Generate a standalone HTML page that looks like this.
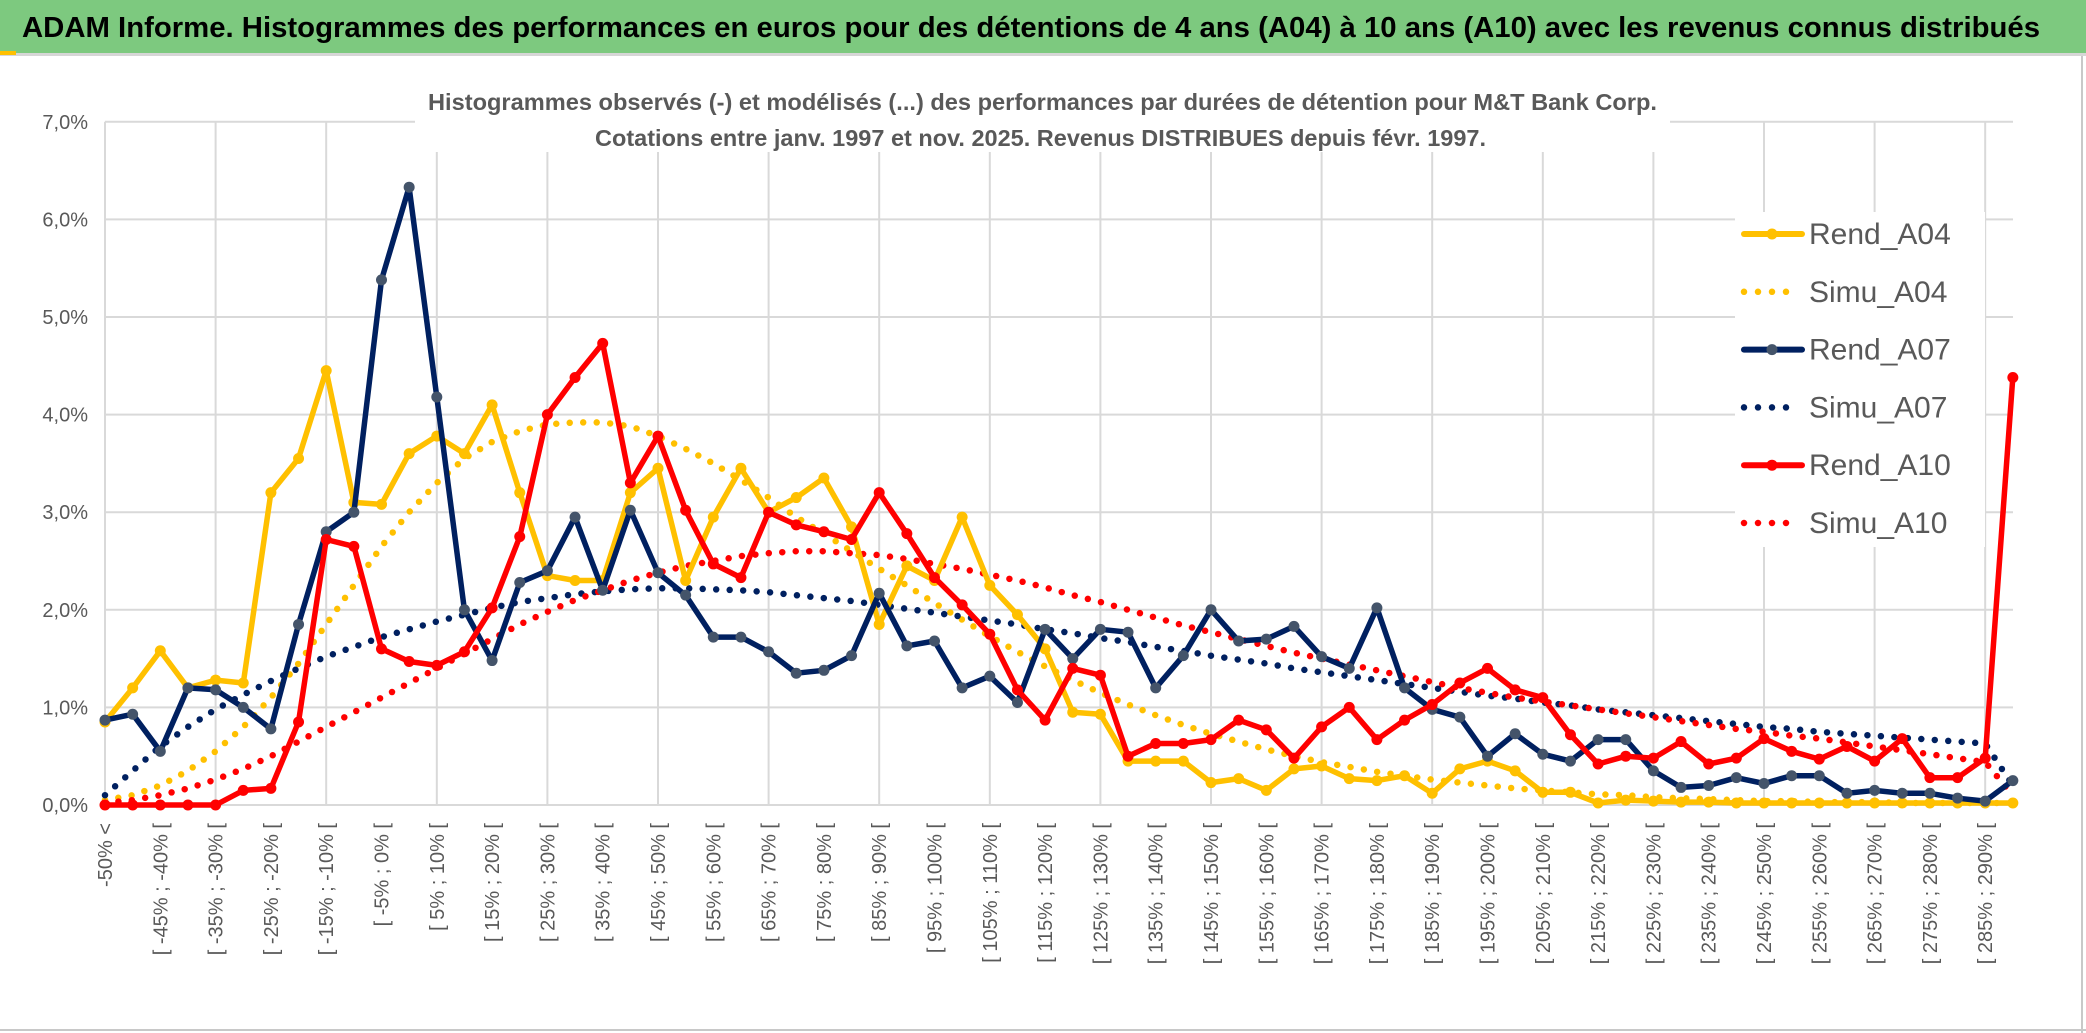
<!DOCTYPE html>
<html><head><meta charset="utf-8"><style>
html,body{margin:0;padding:0;background:#fff;}
svg{display:block;font-family:"Liberation Sans Narrow","Liberation Sans",sans-serif;}
</style></head><body>
<svg id="chart" width="2086" height="1033" viewBox="0 0 2086 1033" xmlns="http://www.w3.org/2000/svg">
<rect x="0" y="0" width="2086" height="1033" fill="#fff"/>
<rect x="0" y="0" width="2086" height="53" fill="#7DC97F"/>
<rect x="0" y="53" width="2086" height="3" fill="#d6d6d6"/>
<rect x="0" y="51" width="16" height="4" fill="#FFC000"/>
<line x1="2082" y1="56" x2="2082" y2="1033" stroke="#c8c8c8" stroke-width="2"/>
<line x1="0" y1="1030" x2="2086" y2="1030" stroke="#c8c8c8" stroke-width="2"/>
<text x="22" y="37" font-size="29" font-weight="bold" fill="#000" textLength="2018" lengthAdjust="spacingAndGlyphs">ADAM Informe. Histogrammes des performances en euros pour des détentions de 4 ans (A04) à 10 ans (A10) avec les revenus connus distribués</text>
<g id="grid"></g>
<g id="series"></g>
<rect x="415" y="80" width="1255" height="72" fill="#fff"/>
<text x="428" y="110" font-size="23" font-weight="bold" fill="#595959" textLength="1229" lengthAdjust="spacingAndGlyphs">Histogrammes observés (-) et modélisés (...) des performances par durées de détention pour M&amp;T Bank Corp.</text>
<text x="595" y="146" font-size="23" font-weight="bold" fill="#595959" textLength="891" lengthAdjust="spacingAndGlyphs">Cotations entre janv. 1997 et nov. 2025. Revenus DISTRIBUES depuis févr. 1997.</text>
<g id="legend"></g>
<g id="axes"></g>
</svg>
<script>
const categories = ["-50% <"];
for (let k = -50; k < 300; k += 5) categories.push("[ " + k + "% ; " + (k + 5) + "% [");
categories.length = 70;
const rendA04 = [0.85,1.2,1.58,1.2,1.28,1.25,3.2,3.55,4.45,3.1,3.08,3.6,3.78,3.6,4.1,3.2,2.35,2.3,2.3,3.2,3.45,2.3,2.95,3.45,3.0,3.15,3.35,2.85,1.85,2.45,2.3,2.95,2.25,1.95,1.6,0.95,0.93,0.45,0.45,0.45,0.23,0.27,0.15,0.37,0.4,0.27,0.25,0.3,0.12,0.37,0.45,0.35,0.13,0.13,0.02,0.05,0.04,0.03,0.03,0.02,0.02,0.02,0.02,0.02,0.02,0.02,0.02,0.02,0.02,0.02];
const rendA07 = [0.87,0.93,0.55,1.2,1.18,1.0,0.78,1.85,2.8,3.0,5.38,6.33,4.18,2.0,1.48,2.28,2.4,2.95,2.2,3.02,2.38,2.15,1.72,1.72,1.57,1.35,1.38,1.53,2.17,1.63,1.68,1.2,1.32,1.05,1.8,1.5,1.8,1.77,1.2,1.53,2.0,1.68,1.7,1.83,1.52,1.4,2.02,1.2,0.98,0.9,0.5,0.73,0.52,0.45,0.67,0.67,0.35,0.18,0.2,0.28,0.22,0.3,0.3,0.12,0.15,0.12,0.12,0.07,0.04,0.25];
const rendA10 = [0,0,0,0,0,0.15,0.17,0.85,2.72,2.65,1.6,1.47,1.43,1.57,2.02,2.75,4.0,4.38,4.73,3.3,3.78,3.02,2.47,2.33,3.0,2.87,2.8,2.72,3.2,2.78,2.33,2.05,1.75,1.18,0.87,1.4,1.33,0.5,0.63,0.63,0.67,0.87,0.77,0.48,0.8,1.0,0.67,0.87,1.03,1.25,1.4,1.18,1.1,0.72,0.42,0.5,0.48,0.65,0.42,0.48,0.68,0.55,0.47,0.6,0.45,0.68,0.28,0.28,0.48,4.38];
const simuA04 = [0.05,0.1,0.2,0.35,0.55,0.8,1.1,1.45,1.85,2.25,2.65,3.0,3.3,3.55,3.72,3.83,3.9,3.92,3.92,3.88,3.78,3.65,3.5,3.33,3.15,2.95,2.78,2.6,2.42,2.25,2.07,1.9,1.73,1.57,1.42,1.28,1.15,1.03,0.92,0.82,0.73,0.65,0.57,0.5,0.44,0.39,0.34,0.3,0.26,0.23,0.2,0.17,0.15,0.13,0.11,0.1,0.08,0.07,0.06,0.05,0.04,0.04,0.03,0.03,0.03,0.02,0.02,0.02,0.02,0.02];
const simuA07 = [0.1,0.35,0.6,0.8,0.98,1.13,1.27,1.4,1.52,1.62,1.72,1.8,1.88,1.95,2.02,2.08,2.12,2.16,2.19,2.21,2.22,2.22,2.21,2.2,2.18,2.15,2.12,2.09,2.05,2.01,1.97,1.93,1.89,1.85,1.8,1.76,1.71,1.67,1.62,1.58,1.53,1.49,1.45,1.4,1.36,1.32,1.28,1.24,1.2,1.16,1.12,1.09,1.05,1.02,0.98,0.95,0.92,0.89,0.86,0.83,0.8,0.78,0.75,0.73,0.71,0.69,0.67,0.65,0.63,0.2];
const simuA10 = [0.02,0.05,0.1,0.17,0.26,0.37,0.5,0.65,0.8,0.95,1.1,1.25,1.4,1.55,1.7,1.85,1.98,2.1,2.2,2.3,2.38,2.45,2.5,2.55,2.58,2.6,2.6,2.58,2.56,2.52,2.47,2.42,2.36,2.3,2.23,2.15,2.08,2.0,1.92,1.84,1.77,1.7,1.63,1.56,1.5,1.44,1.38,1.32,1.26,1.2,1.15,1.1,1.06,1.02,0.98,0.94,0.9,0.86,0.82,0.78,0.75,0.71,0.68,0.64,0.6,0.56,0.52,0.48,0.44,0.1];
const yTicks = [0,1,2,3,4,5,6,7];
const yTickLabels = ["0,0%","1,0%","2,0%","3,0%","4,0%","5,0%","6,0%","7,0%"];

const NS = "http://www.w3.org/2000/svg";
const X0 = 105, DX = 27.65, Y0 = 805, YS = 97.6;
const xs = i => X0 + i * DX;
const ys = v => Y0 - v * YS;
function mk(tag, attrs, parent) {
  const e = document.createElementNS(NS, tag);
  for (const k in attrs) e.setAttribute(k, attrs[k]);
  parent.appendChild(e);
  return e;
}
const grid = document.getElementById("grid");
const axes = document.getElementById("axes");
const seriesG = document.getElementById("series");
const legend = document.getElementById("legend");

yTicks.forEach((t, i) => {
  const l = mk("line", {x1: X0, x2: 2013, y1: ys(t), y2: ys(t), stroke: "#d9d9d9", "stroke-width": 2}, grid);
  
  
  const tx = mk("text", {x: 88, y: ys(t) + 7, "text-anchor": "end", "font-size": 20, fill: "#595959"}, axes);
  
  
  tx.textContent = yTickLabels[i];
});
for (let i = 0; i < categories.length; i += 4) {
  const l = mk("line", {x1: xs(i), x2: xs(i), y1: ys(7), y2: ys(0), stroke: "#d9d9d9", "stroke-width": 2}, grid);
  
  
}
categories.forEach((c, i) => {
  if (i % 2) return;
  const x = xs(i) + 7, y = 823;
  const tx = mk("text", {x: x, y: y, "text-anchor": "end", "font-size": 20, fill: "#595959", transform: "rotate(-90 " + x + " " + y + ")"}, axes);
  
  
  tx.textContent = c;
});

function pts(arr) { return arr.map((v, i) => xs(i).toFixed(1) + "," + ys(v).toFixed(1)).join(" "); }
function dotted(arr, color, name) {
  const p = mk("polyline", {points: pts(arr), fill: "none", stroke: color, "stroke-width": 6.5, "stroke-linecap": "round", "stroke-dasharray": "0 13.5"}, seriesG);
  
  
}
function solid(arr, color, mcolor, name) {
  const p = mk("polyline", {points: pts(arr), fill: "none", stroke: color, "stroke-width": 5.5, "stroke-linejoin": "round"}, seriesG);
  
  
  arr.forEach((v, i) => {
    const c = mk("circle", {cx: xs(i), cy: ys(v), r: 5.5, fill: mcolor}, seriesG);
    
    
  });
}
dotted(simuA04, "#FFC000", "simu-a04-line");
dotted(simuA07, "#002060", "simu-a07-line");
dotted(simuA10, "#FF0000", "simu-a10-line");
solid(rendA04, "#FFC000", "#FFC000", "rend-a04-line");
solid(rendA07, "#002060", "#44546A", "rend-a07-line");
solid(rendA10, "#FF0000", "#FF0000", "rend-a10-line");

const lb = mk("rect", {x: 1735, y: 212, width: 250, height: 335, fill: "#fff"}, legend);


const leg = [["Rend_A04","#FFC000","#FFC000",false],["Simu_A04","#FFC000",null,true],["Rend_A07","#002060","#44546A",false],["Simu_A07","#002060",null,true],["Rend_A10","#FF0000","#FF0000",false],["Simu_A10","#FF0000",null,true]];
leg.forEach((e, i) => {
  const y = 234 + i * 57.8;
  if (e[3]) {
    const l = mk("line", {x1: 1744, x2: 1800, y1: y, y2: y, stroke: e[1], "stroke-width": 6.5, "stroke-linecap": "round", "stroke-dasharray": "0 14"}, legend);
    
    
  } else {
    const l = mk("line", {x1: 1744, x2: 1802, y1: y, y2: y, stroke: e[1], "stroke-width": 6, "stroke-linecap": "round"}, legend);
    
    
    const c = mk("circle", {cx: 1772, cy: y, r: 5.5, fill: e[2]}, legend);
    
    
  }
  const t = mk("text", {x: 1809, y: y + 10, "font-size": 30, fill: "#595959"}, legend);
  
  
  t.textContent = e[0];
});
</script>
</body></html>
